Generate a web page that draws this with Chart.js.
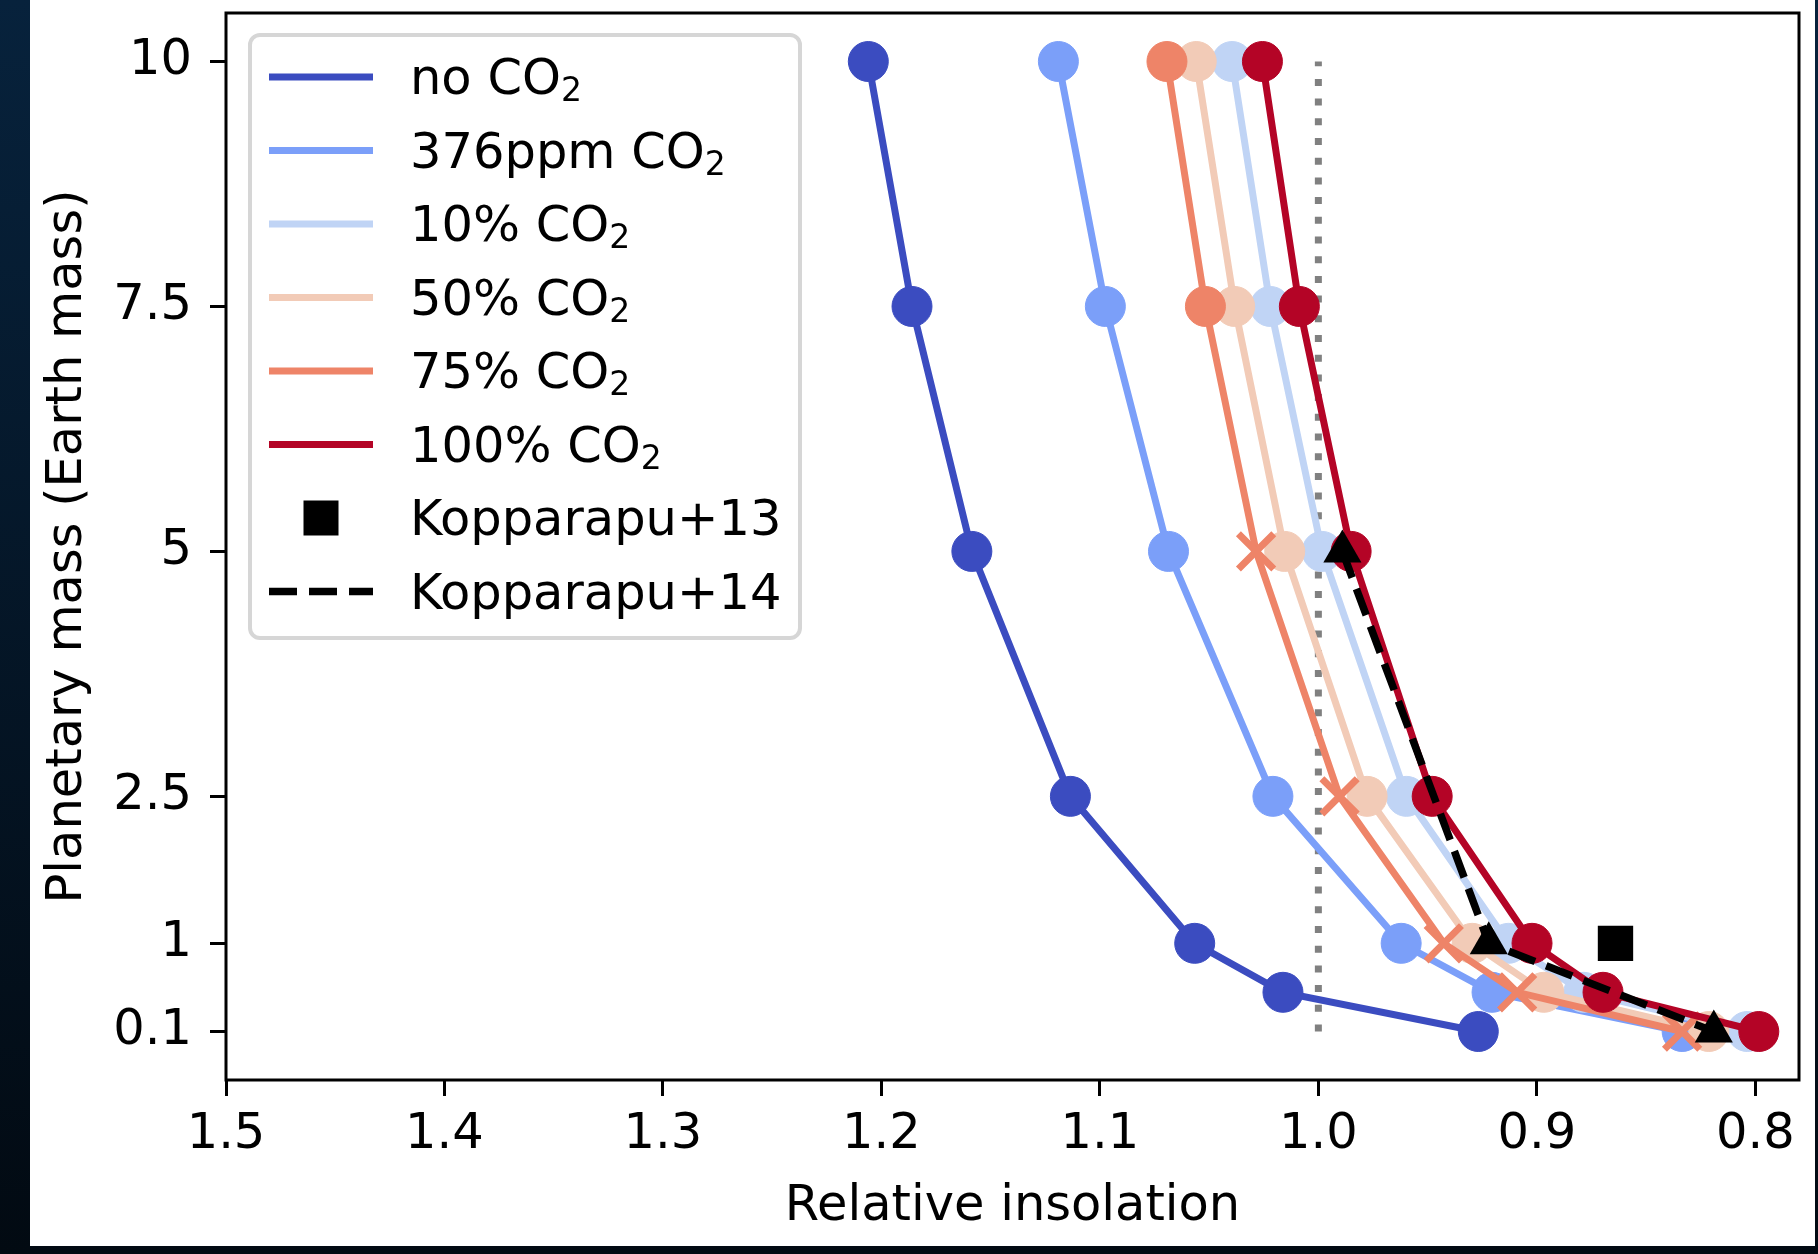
<!DOCTYPE html>
<html lang="en">
<head>
    <meta charset="UTF-8">
    <title>Planetary mass vs relative insolation</title>
    <script src="https://cdn.jsdelivr.net/npm/chart.js"></script>
    <style>
        html, body { margin: 0; padding: 0; }
        body { width: 1818px; height: 1254px; overflow: hidden; background: linear-gradient(#07223c, #020a12); }
        #panel { position: absolute; left: 30px; top: 0; width: 1785px; height: 1246px; background: #fff; }
        canvas { display: block; }
    </style>
</head>
<body>
    <div id="panel"><canvas id="chart" width="1785" height="1246"></canvas></div>
    <script>
        // Planetary mass (Earth mass) for every CO2 run, top to bottom
        const masses = [10, 7.5, 5, 2.5, 1, 0.5, 0.1];
        // Relative insolation at each mass
        const noCO2   = [1.206, 1.186, 1.1586, 1.1135, 1.0566, 1.0162, 0.9268];
        const ppm376  = [1.119, 1.0975, 1.0686, 1.0208, 0.9621, 0.9205, 0.8335];
        const pct10   = [1.0395, 1.022, 0.9983, 0.9597, 0.913, 0.8785, 0.8037];
        const pct50   = [1.0559, 1.0383, 1.0154, 0.9777, 0.9296, 0.8968, 0.8213];
        const pct75   = [1.0693, 1.0517, 1.0285, 0.9903, 0.9426, 0.909, 0.8335];
        const pct100  = [1.0256, 1.0087, 0.985, 0.9479, 0.9022, 0.8697, 0.7984];
        // Kopparapu et al. reference points
        const k13Mass = [1];
        const k13Insol = [0.864];
        const k14Mass = [5, 1, 0.1];
        const k14Insol = [0.989, 0.922, 0.819];
        // Present-day Earth insolation guide
        const refMass = [0.1, 10];
        const refInsol = [1.0, 1.0];
        const xTicks = [1.5, 1.4, 1.3, 1.2, 1.1, 1.0, 0.9, 0.8];
        const yTicks = [0.1, 1, 2.5, 5, 7.5, 10];

        const FONT = 'DejaVu Sans';
        const FONT_SIZE = 49.5;
        const toPoints = (xs, ys) => xs.map((x, i) => ({ x: x, y: ys[i] }));

        const series = [
            { label: 'no CO₂', values: noCO2, color: '#3b4cc0' },
            { label: '376ppm CO₂', values: ppm376, color: '#7b9ff9' },
            { label: '10% CO₂', values: pct10, color: '#c0d4f5' },
            { label: '50% CO₂', values: pct50, color: '#f2cbb7' },
            { label: '75% CO₂', values: pct75, color: '#ee8468', cross: true },
            { label: '100% CO₂', values: pct100, color: '#b40426' }
        ];

        const datasets = [];
        datasets.push({
            label: 'ref',
            data: toPoints(refInsol, refMass),
            showLine: true,
            borderColor: '#808080',
            borderWidth: 7,
            borderDash: [7, 12.7],
            pointRadius: 0,
            legend: null
        });
        series.forEach(s => {
            const isCross = ctx => s.cross && ctx.dataIndex > 1;
            datasets.push({
                label: s.label,
                data: toPoints(s.values, masses),
                showLine: true,
                borderColor: s.color,
                backgroundColor: s.color,
                borderWidth: 7,
                pointStyle: ctx => isCross(ctx) ? 'crossRot' : 'circle',
                pointRadius: ctx => isCross(ctx) ? 25 : 20,
                pointBorderWidth: ctx => isCross(ctx) ? 7 : 1,
                pointBorderColor: s.color,
                pointBackgroundColor: s.color,
                legend: 'line'
            });
        });
        datasets.push({
            label: 'Kopparapu+13',
            data: toPoints(k13Insol, k13Mass),
            showLine: false,
            pointStyle: 'rect',
            pointRadius: 25,
            pointBorderWidth: 0,
            pointBackgroundColor: '#000',
            legend: 'square'
        });
        datasets.push({
            label: 'Kopparapu+14',
            data: toPoints(k14Insol, k14Mass),
            showLine: true,
            borderColor: '#000',
            borderWidth: 7.5,
            borderDash: [28, 12],
            pointStyle: 'triangle',
            pointRadius: 22,
            pointBorderWidth: 0,
            pointBackgroundColor: '#000',
            legend: 'dash'
        });
        // later datasets sit on top, like the original plotting order
        datasets.forEach((d, i) => { d.order = datasets.length - i; });

        // frame around the plotting area
        const framePlugin = {
            id: 'frame',
            afterDatasetsDraw(chart) {
                const a = chart.chartArea;
                const ctx = chart.ctx;
                ctx.save();
                ctx.strokeStyle = '#000';
                ctx.lineWidth = 3;
                ctx.strokeRect(a.left, a.top, a.right - a.left, a.bottom - a.top);
                ctx.restore();
            }
        };

        // boxed legend in the upper left corner
        const legendPlugin = {
            id: 'boxLegend',
            afterDraw(chart) {
                const ctx = chart.ctx;
                const box = { x: 220, y: 35, w: 550, h: 603 };
                const rowTop = 77, rowStep = 73.5;
                const lineX0 = 239, lineX1 = 343, textX = 380;
                ctx.save();
                ctx.fillStyle = '#fff';
                ctx.strokeStyle = '#d6d6d6';
                ctx.lineWidth = 4;
                ctx.beginPath();
                ctx.roundRect(box.x, box.y, box.w, box.h, 10);
                ctx.fill();
                ctx.stroke();
                let row = 0;
                chart.data.datasets.forEach(d => {
                    if (!d.legend) return;
                    const y = rowTop + row * rowStep;
                    ctx.setLineDash([]);
                    if (d.legend === 'line') {
                        ctx.strokeStyle = d.borderColor;
                        ctx.lineWidth = 7;
                        ctx.beginPath(); ctx.moveTo(lineX0, y); ctx.lineTo(lineX1, y); ctx.stroke();
                    } else if (d.legend === 'dash') {
                        ctx.strokeStyle = '#000';
                        ctx.lineWidth = 7.5;
                        ctx.setLineDash(d.borderDash);
                        ctx.beginPath(); ctx.moveTo(lineX0, y); ctx.lineTo(lineX1, y); ctx.stroke();
                    } else if (d.legend === 'square') {
                        ctx.fillStyle = '#000';
                        ctx.fillRect((lineX0 + lineX1) / 2 - 17.5, y - 17.5, 35, 35);
                    }
                    // label, with the "2" of CO2 set as a subscript
                    ctx.fillStyle = '#000';
                    ctx.textBaseline = 'alphabetic';
                    ctx.textAlign = 'left';
                    const base = y + 17;
                    const parts = d.label.split('₂');
                    let x = textX;
                    parts.forEach((p, k) => {
                        ctx.font = FONT_SIZE + 'px "' + FONT + '"';
                        ctx.fillText(p, x, base);
                        x += ctx.measureText(p).width;
                        if (k < parts.length - 1) {
                            ctx.font = '33px "' + FONT + '"';
                            ctx.fillText('2', x, base + 7);
                            x += ctx.measureText('2').width;
                        }
                    });
                    row++;
                });
                ctx.restore();
            }
        };

        new Chart(document.getElementById('chart'), {
            type: 'scatter',
            data: { datasets: datasets },
            options: {
                responsive: false,
                animation: false,
                events: [],
                layout: { autoPadding: false, padding: { left: 0, right: 16, top: 13, bottom: 0 } },
                plugins: { legend: { display: false }, tooltip: { enabled: false } },
                scales: {
                    x: {
                        type: 'linear',
                        reverse: true,
                        min: 0.78,
                        max: 1.5,
                        afterBuildTicks: scale => { scale.ticks = xTicks.map(v => ({ value: v })); },
                        afterFit: scale => {
                            scale.height = 166;
                            scale.paddingLeft = 0;
                            scale.paddingRight = 0;
                        },
                        grid: { drawOnChartArea: false, drawTicks: true, tickLength: 16, tickWidth: 3, tickColor: '#000' },
                        border: { display: false },
                        ticks: {
                            color: '#000',
                            padding: 9,
                            maxRotation: 0,
                            font: { family: FONT, size: FONT_SIZE },
                            callback: v => Number(v).toFixed(1)
                        },
                        title: {
                            display: true,
                            text: 'Relative insolation',
                            color: '#000',
                            font: { family: FONT, size: FONT_SIZE },
                            padding: { top: 0, bottom: 9 }
                        }
                    },
                    y: {
                        type: 'linear',
                        min: -0.395,
                        max: 10.495,
                        afterBuildTicks: scale => { scale.ticks = yTicks.map(v => ({ value: v })); },
                        afterFit: scale => {
                            scale.width = 196;
                            scale.paddingTop = 0;
                            scale.paddingBottom = 0;
                        },
                        grid: { drawOnChartArea: false, drawTicks: true, tickLength: 16, tickWidth: 3, tickColor: '#000' },
                        border: { display: false },
                        ticks: {
                            color: '#000',
                            padding: 18,
                            font: { family: FONT, size: FONT_SIZE },
                            callback: v => String(v)
                        },
                        title: {
                            display: true,
                            text: 'Planetary mass (Earth mass)',
                            color: '#000',
                            font: { family: FONT, size: FONT_SIZE },
                            padding: { top: 8, bottom: 0 }
                        }
                    }
                }
            },
            plugins: [framePlugin, legendPlugin]
        });
    </script>
</body>
</html>
